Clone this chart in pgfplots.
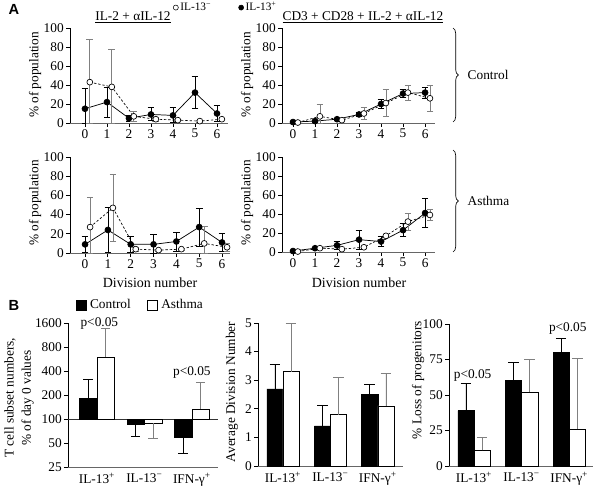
\documentclass[border=0pt]{standalone}
\usepackage{fontspec}
\setmainfont{Liberation Serif}
\newfontfamily\labsans{Liberation Sans}
\usepackage{pgfplots}
\pgfplotsset{compat=1.18}
\usetikzlibrary{decorations.pathreplacing}

\begin{document}
\fontsize{10}{12}\selectfont
\begin{tikzpicture}
\useasboundingbox (0,0) rectangle (450pt,-369pt);
\pgfplotsset{
  base/.style={scale only axis, anchor=south west, axis lines=left,
    axis line style={-, line width=0.6pt},
    x axis line style={black!60},
    tick align=outside, major tick length=3pt,
    tick style={black, line width=0.6pt}, clip=false,
    /pgf/number format/assume math mode=true,
    tick label style={font=\fontsize{10}{12}\selectfont},
    xticklabel style={inner sep=1.5pt}, yticklabel style={inner sep=1.5pt}},
  apanel/.style={base, ymin=0, ymax=100, ytick={0,20,40,60,80,100}, xtick={0,...,6}},
  bpanel/.style={base, xtick={1,2,3}, x tick style={draw=none},
    xticklabels={IL-13\textsuperscript{+}, IL-13\textsuperscript{−}, IFN-γ\textsuperscript{+}}},
  filled/.style={black, line width=0.55pt, mark=*, mark size=2.2pt,
    mark options={solid, fill=black},
    error bars/y dir=both, error bars/y explicit,
    error bars/error bar style={solid, black, line width=0.5pt},
    error bars/error mark options={rotate=90, mark size=2.5pt, line width=0.5pt, black}},
  open/.style={black, line width=0.5pt, dash pattern=on 1.8pt off 1.4pt, mark=*, mark size=2.2pt,
    mark options={solid, fill=white, draw=black},
    error bars/y dir=both, error bars/y explicit,
    error bars/error bar style={solid, gray, line width=0.5pt},
    error bars/error mark options={rotate=90, mark size=2.5pt, line width=0.5pt, gray}},
  ctrlerr/.style={error bars/y explicit,
    error bars/error bar style={solid, black, line width=0.5pt},
    error bars/error mark options={rotate=90, mark size=4pt, line width=0.5pt, black}},
  astherr/.style={error bars/y explicit,
    error bars/error bar style={solid, gray, line width=0.5pt},
    error bars/error mark options={rotate=90, mark size=4pt, line width=0.5pt, gray}},
}

% ---------- A: top left ----------
\begin{axis}[apanel, at={(52.5pt,-92.25pt)}, width=118.5pt, height=71.25pt, xmin=-0.68, xmax=6.5,
  legend image code/.code={\draw[#1] plot coordinates {(2.5pt,0pt)};},
  legend style={at={(0.652,1.215)}, anchor=west, draw=none, fill=none, inner sep=0pt,
    legend columns=2, font=\fontsize{8.5}{10}\selectfont,
    nodes={inner sep=1.5pt},
    /tikz/every even column/.append style={column sep=19pt}}]
\addlegendimage{mark=*, mark size=1.9pt, mark options={fill=white, draw=black, line width=0.4pt}}
\addlegendentry{IL-13\textsuperscript{−}}
\addlegendimage{mark=*, mark size=1.9pt, mark options={fill=black}}
\addlegendentry{IL-13\textsuperscript{+}}
\addplot[forget plot, filled] coordinates {
 (0,15) += (0,21) -= (0,15)
 (1,22) +- (0,16)
 (2,5) +- (0,3)
 (3,9) += (0,7) -= (0,6)
 (4,8) += (0,9) -= (0,7)
 (5,32) +- (0,17)
 (6,10) += (0,9) -= (0,8)
};
\addplot[forget plot, open] coordinates {
 (0.22,43) += (0,45) -= (0,43)
 (1.22,38) += (0,40) -= (0,38)
 (2.22,7) += (0,5) -= (0,5)
 (3.22,4) +- (0,2)
 (4.22,3) +- (0,1)
 (5.22,2) +- (0,1)
 (6.22,4) +- (0,1)
};
\end{axis}

% ---------- A: top right ----------
\begin{axis}[apanel, at={(211.5pt,-92.25pt)}, width=114.75pt, height=71.25pt, xmin=-0.5, xmax=6.45]
\addplot[forget plot, filled] coordinates {
 (0,1) +- (0,0.5)
 (1,2) +- (0,1)
 (2,4) +- (0,1)
 (3,9) +- (0,2)
 (4,20) +- (0,5)
 (5,31) +- (0,4)
 (6,32) +- (0,6)
};
\addplot[forget plot, open] coordinates {
 (0.22,0.5) +- (0,0.5)
 (1.22,7) += (0,13) -= (0,7)
 (2.22,3) +- (0,1)
 (3.22,10) +- (0,6)
 (4.22,21) +- (0,14)
 (5.22,32) +- (0,8)
 (6.22,26) +- (0,14)
};
\end{axis}

% ---------- A: bottom left ----------
\begin{axis}[apanel, at={(52.5pt,-189.75pt)}, width=120pt, height=72pt, xmin=-0.66, xmax=6.35]
\addplot[forget plot, filled] coordinates {
 (0,9) += (0,8) -= (0,8)
 (1,24) += (0,24) -= (0,23)
 (2,9) += (0,8) -= (0,8)
 (3,9) += (0,10) -= (0,9)
 (4,12) +- (0,10)
 (5,27) +- (0,20)
 (6,11) +- (0,9)
};
\addplot[forget plot, open] coordinates {
 (0.22,27) += (0,31) -= (0,27)
 (1.22,47) +- (0,35)
 (2.22,4) +- (0,2)
 (3.22,3) +- (0,1)
 (4.22,4) +- (0,1)
 (5.22,10) += (0,18) -= (0,10)
 (6.22,6) +- (0,4)
};
\end{axis}

% ---------- A: bottom right ----------
\begin{axis}[apanel, at={(211.5pt,-189pt)}, width=114.75pt, height=71.25pt, xmin=-0.5, xmax=6.45]
\addplot[forget plot, filled] coordinates {
 (0,1) +- (0,0.5)
 (1,4) +- (0,1)
 (2,7) +- (0,4)
 (3,13) +- (0,10)
 (4,11) +- (0,5)
 (5,23) +- (0,7)
 (6,41) +- (0,15)
};
\addplot[forget plot, open] coordinates {
 (0.22,0.5) +- (0,0.5)
 (1.22,4) +- (0,1)
 (2.22,3) +- (0,1)
 (3.22,5) +- (0,1)
 (4.22,17) +- (0,1)
 (5.22,32) +- (0,9)
 (6.22,39) +- (0,6)
};
\end{axis}

% ---------- B: left (log) ----------
\begin{axis}[bpanel, at={(51pt,-350.25pt)}, width=112.5pt, height=108pt,
  ymode=log, ymin=25, ymax=1600, ytick={25,50,100,200,400,800,1600},
  yticklabels={25,50,100,200,400,800,1600}, xmin=0.39, xmax=3.55,
  legend image code/.code={\draw[#1] (0pt,-3.75pt) rectangle (7.5pt,3.75pt);},
  legend style={at={(0.053,1.125)}, anchor=west, draw=none, fill=none, inner sep=0pt,
    legend columns=2, font=\fontsize{10}{12}\selectfont,
    nodes={inner sep=2.5pt},
    /tikz/every even column/.append style={column sep=10pt}}]
\addlegendimage{fill=black, draw=black}
\addlegendentry{Control}
\addlegendimage{fill=white, draw=black}
\addlegendentry{Asthma}
\addplot[black!80, line width=0.6pt, forget plot] coordinates {(0.39,100) (3.55,100)};
% control bars
\addplot[fill=black, draw=black, forget plot] coordinates {(0.63,100) (0.63,183) (1,183) (1,100)} -- cycle;
\addplot[fill=black, draw=black, forget plot] coordinates {(1.63,100) (1.63,87) (2,87) (2,100)} -- cycle;
\addplot[fill=black, draw=black, forget plot] coordinates {(2.63,100) (2.63,59) (3,59) (3,100)} -- cycle;
% asthma bars
\addplot[fill=white, draw=black, forget plot] coordinates {(1,100) (1,598) (1.37,598) (1.37,100)} -- cycle;
\addplot[fill=white, draw=black, forget plot] coordinates {(2,100) (2,89) (2.37,89) (2.37,100)} -- cycle;
\addplot[fill=white, draw=black, forget plot] coordinates {(3,100) (3,134) (3.37,134) (3.37,100)} -- cycle;
% error bars
\addplot[black, line width=0.5pt, forget plot] coordinates {(0.815,183) (0.815,318)};
\addplot[black, line width=0.5pt, forget plot] coordinates {(0.715,318) (0.915,318)};
\addplot[gray, line width=0.5pt, forget plot] coordinates {(1.185,598) (1.185,1385)};
\addplot[gray, line width=0.5pt, forget plot] coordinates {(1.085,1385) (1.285,1385)};
\addplot[black, line width=0.5pt, forget plot] coordinates {(1.815,87) (1.815,61)};
\addplot[black, line width=0.5pt, forget plot] coordinates {(1.715,61) (1.915,61)};
\addplot[gray, line width=0.5pt, forget plot] coordinates {(2.185,89) (2.185,58)};
\addplot[gray, line width=0.5pt, forget plot] coordinates {(2.085,58) (2.285,58)};
\addplot[black, line width=0.5pt, forget plot] coordinates {(2.815,59) (2.815,37)};
\addplot[black, line width=0.5pt, forget plot] coordinates {(2.715,37) (2.915,37)};
\addplot[gray, line width=0.5pt, forget plot] coordinates {(3.185,134) (3.185,291)};
\addplot[gray, line width=0.5pt, forget plot] coordinates {(3.085,291) (3.285,291)};
\node at (axis cs:1.05,1600) {p<0.05};
\node at (axis cs:3,380) {p<0.05};
\end{axis}

% ---------- B: middle ----------
\begin{axis}[bpanel, at={(193.5pt,-349.5pt)}, width=108.75pt, height=107.25pt,
  xmin=0.474, xmax=3.53, ymin=0, ymax=5, ytick={0,1,2,3,4,5},
  ybar, bar width=0.34]
\addplot[fill=black, draw=black, bar shift=-0.17, error bars/y dir=plus, ctrlerr] coordinates {
 (1,2.7) +- (0,0.85) (2,1.4) +- (0,0.73) (3,2.5) +- (0,0.35)};
\addplot[fill=white, draw=black, bar shift=0.17, error bars/y dir=plus, astherr] coordinates {
 (1,3.3) +- (0,1.7) (2,1.8) +- (0,1.3) (3,2.1) +- (0,1.15)};
\end{axis}

% ---------- B: right ----------
\begin{axis}[bpanel, at={(336.75pt,-349.5pt)}, width=108pt, height=106.5pt,
  xmin=0.474, xmax=3.5, ymin=0, ymax=100, ytick={0,25,50,75,100},
  ybar, bar width=0.34]
\addplot[fill=black, draw=black, bar shift=-0.17, error bars/y dir=plus, ctrlerr] coordinates {
 (1,39) +- (0,19) (2,60.5) +- (0,12.5) (3,80) +- (0,10)};
\addplot[fill=white, draw=black, bar shift=0.17, error bars/y dir=plus, astherr] coordinates {
 (1,11) +- (0,9) (2,52) +- (0,23) (3,26) +- (0,50)};
\node at (axis cs:0.97,63.5) {p<0.05};
\node at (axis cs:2.97,96.5) {p<0.05};
\end{axis}

% ---------- texts and braces ----------
\begin{scope}[x=0.75pt, y=-0.75pt]
\node[font=\labsans\bfseries\fontsize{11}{13}\selectfont] at (14,9) {A};
\node[font=\labsans\bfseries\fontsize{11}{13}\selectfont] at (14,305) {B};
\node at (133,17) {\underline{IL-2 + αIL-12}};
\node at (363,17) {\underline{CD3 + CD28 + IL-2 + αIL-12}};
\node[rotate=90] at (35,75) {\% of population};
\node[rotate=90] at (247,75) {\% of population};
\node[rotate=90] at (35,203) {\% of population};
\node[rotate=90] at (247,203) {\% of population};
\node[font=\fontsize{10.5}{12}\selectfont] at (150,283) {Division number};
\node[font=\fontsize{10.5}{12}\selectfont] at (359,283) {Division number};
\draw[line width=0.5pt, decorate, decoration={brace, amplitude=4pt}] (453,28) -- (453,122);
\draw[line width=0.5pt, decorate, decoration={brace, amplitude=4pt}] (453,150) -- (453,252);
\node[anchor=west] at (463,75) {Control};
\node[anchor=west] at (463,201) {Asthma};
\node[rotate=90, align=center, font=\fontsize{10}{13}\selectfont] at (19,398) {T cell subset numbers,\\\% of day 0 values};
\node[rotate=90] at (232,392) {Average Division Number};
\node[rotate=90] at (418,380) {\% Loss of progenitors};
\end{scope}
\end{tikzpicture}
\end{document}
